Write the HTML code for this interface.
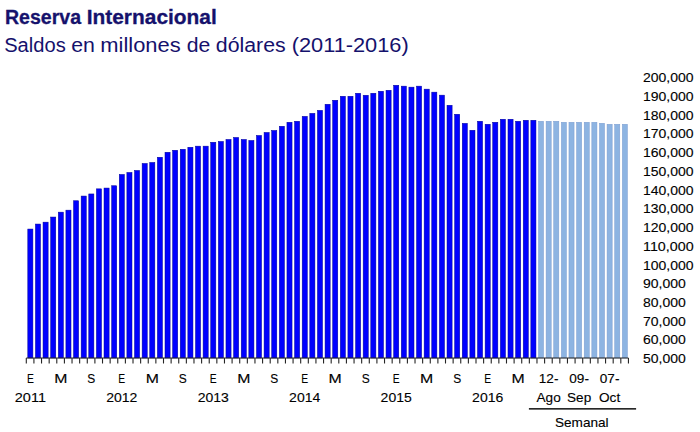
<!DOCTYPE html>
<html><head><meta charset="utf-8"><title>Reserva Internacional</title>
<style>
html,body{margin:0;padding:0;background:#fff;}
body{width:700px;height:432px;overflow:hidden;position:relative;font-family:"Liberation Sans",sans-serif;}
svg{position:absolute;left:0;top:0;}
text{font-family:"Liberation Sans",sans-serif;}
.t1{font-size:20.3px;font-weight:bold;fill:#15116c;stroke:#15116c;stroke-width:0.3px;}
.t2{font-size:20px;fill:#15116c;}
.ax{font-size:13.6px;fill:#000;stroke:#000;stroke-width:0.12px;}
</style></head><body>
<svg width="700" height="432" viewBox="0 0 700 432">
<rect width="700" height="432" fill="#fff"/>
<text class="t1" x="5.00" y="23.6" textLength="76.10" lengthAdjust="spacingAndGlyphs">Reserva</text>
<text class="t1" x="86.70" y="23.6" textLength="130.10" lengthAdjust="spacingAndGlyphs">Internacional</text>
<text class="t2" x="4.20" y="52.0" textLength="61.50" lengthAdjust="spacingAndGlyphs">Saldos</text>
<text class="t2" x="71.20" y="52.0" textLength="23.70" lengthAdjust="spacingAndGlyphs">en</text>
<text class="t2" x="100.30" y="52.0" textLength="80.40" lengthAdjust="spacingAndGlyphs">millones</text>
<text class="t2" x="186.80" y="52.0" textLength="23.60" lengthAdjust="spacingAndGlyphs">de</text>
<text class="t2" x="215.80" y="52.0" textLength="69.90" lengthAdjust="spacingAndGlyphs">dólares</text>
<text class="t2" x="291.70" y="52.0" textLength="117.00" lengthAdjust="spacingAndGlyphs">(2011-2016)</text>

<g shape-rendering="auto">
<rect x="27.80" y="229.05" width="5.1" height="128.95" fill="#0000ff" stroke="#000098" stroke-width="0.5"/>
<rect x="35.42" y="224.05" width="5.1" height="133.95" fill="#0000ff" stroke="#000098" stroke-width="0.5"/>
<rect x="43.04" y="222.15" width="5.1" height="135.85" fill="#0000ff" stroke="#000098" stroke-width="0.5"/>
<rect x="50.67" y="217.05" width="5.1" height="140.95" fill="#0000ff" stroke="#000098" stroke-width="0.5"/>
<rect x="58.29" y="212.15" width="5.1" height="145.85" fill="#0000ff" stroke="#000098" stroke-width="0.5"/>
<rect x="65.91" y="210.15" width="5.1" height="147.85" fill="#0000ff" stroke="#000098" stroke-width="0.5"/>
<rect x="73.53" y="200.75" width="5.1" height="157.25" fill="#0000ff" stroke="#000098" stroke-width="0.5"/>
<rect x="81.15" y="196.05" width="5.1" height="161.95" fill="#0000ff" stroke="#000098" stroke-width="0.5"/>
<rect x="88.78" y="193.95" width="5.1" height="164.05" fill="#0000ff" stroke="#000098" stroke-width="0.5"/>
<rect x="96.40" y="188.85" width="5.1" height="169.15" fill="#0000ff" stroke="#000098" stroke-width="0.5"/>
<rect x="104.02" y="188.05" width="5.1" height="169.95" fill="#0000ff" stroke="#000098" stroke-width="0.5"/>
<rect x="111.64" y="185.75" width="5.1" height="172.25" fill="#0000ff" stroke="#000098" stroke-width="0.5"/>
<rect x="119.26" y="174.45" width="5.1" height="183.55" fill="#0000ff" stroke="#000098" stroke-width="0.5"/>
<rect x="126.89" y="172.45" width="5.1" height="185.55" fill="#0000ff" stroke="#000098" stroke-width="0.5"/>
<rect x="134.51" y="170.45" width="5.1" height="187.55" fill="#0000ff" stroke="#000098" stroke-width="0.5"/>
<rect x="142.13" y="163.45" width="5.1" height="194.55" fill="#0000ff" stroke="#000098" stroke-width="0.5"/>
<rect x="149.75" y="162.45" width="5.1" height="195.55" fill="#0000ff" stroke="#000098" stroke-width="0.5"/>
<rect x="157.37" y="157.25" width="5.1" height="200.75" fill="#0000ff" stroke="#000098" stroke-width="0.5"/>
<rect x="165.00" y="152.25" width="5.1" height="205.75" fill="#0000ff" stroke="#000098" stroke-width="0.5"/>
<rect x="172.62" y="150.25" width="5.1" height="207.75" fill="#0000ff" stroke="#000098" stroke-width="0.5"/>
<rect x="180.24" y="149.25" width="5.1" height="208.75" fill="#0000ff" stroke="#000098" stroke-width="0.5"/>
<rect x="187.86" y="147.25" width="5.1" height="210.75" fill="#0000ff" stroke="#000098" stroke-width="0.5"/>
<rect x="195.48" y="146.15" width="5.1" height="211.85" fill="#0000ff" stroke="#000098" stroke-width="0.5"/>
<rect x="203.11" y="146.15" width="5.1" height="211.85" fill="#0000ff" stroke="#000098" stroke-width="0.5"/>
<rect x="210.73" y="142.25" width="5.1" height="215.75" fill="#0000ff" stroke="#000098" stroke-width="0.5"/>
<rect x="218.35" y="141.45" width="5.1" height="216.55" fill="#0000ff" stroke="#000098" stroke-width="0.5"/>
<rect x="225.97" y="139.45" width="5.1" height="218.55" fill="#0000ff" stroke="#000098" stroke-width="0.5"/>
<rect x="233.59" y="137.45" width="5.1" height="220.55" fill="#0000ff" stroke="#000098" stroke-width="0.5"/>
<rect x="241.22" y="139.45" width="5.1" height="218.55" fill="#0000ff" stroke="#000098" stroke-width="0.5"/>
<rect x="248.84" y="140.45" width="5.1" height="217.55" fill="#0000ff" stroke="#000098" stroke-width="0.5"/>
<rect x="256.46" y="135.45" width="5.1" height="222.55" fill="#0000ff" stroke="#000098" stroke-width="0.5"/>
<rect x="264.08" y="132.45" width="5.1" height="225.55" fill="#0000ff" stroke="#000098" stroke-width="0.5"/>
<rect x="271.70" y="130.45" width="5.1" height="227.55" fill="#0000ff" stroke="#000098" stroke-width="0.5"/>
<rect x="279.33" y="126.25" width="5.1" height="231.75" fill="#0000ff" stroke="#000098" stroke-width="0.5"/>
<rect x="286.95" y="122.25" width="5.1" height="235.75" fill="#0000ff" stroke="#000098" stroke-width="0.5"/>
<rect x="294.57" y="121.25" width="5.1" height="236.75" fill="#0000ff" stroke="#000098" stroke-width="0.5"/>
<rect x="302.19" y="116.35" width="5.1" height="241.65" fill="#0000ff" stroke="#000098" stroke-width="0.5"/>
<rect x="309.81" y="113.35" width="5.1" height="244.65" fill="#0000ff" stroke="#000098" stroke-width="0.5"/>
<rect x="317.44" y="110.35" width="5.1" height="247.65" fill="#0000ff" stroke="#000098" stroke-width="0.5"/>
<rect x="325.06" y="104.25" width="5.1" height="253.75" fill="#0000ff" stroke="#000098" stroke-width="0.5"/>
<rect x="332.68" y="100.25" width="5.1" height="257.75" fill="#0000ff" stroke="#000098" stroke-width="0.5"/>
<rect x="340.30" y="96.25" width="5.1" height="261.75" fill="#0000ff" stroke="#000098" stroke-width="0.5"/>
<rect x="347.92" y="96.25" width="5.1" height="261.75" fill="#0000ff" stroke="#000098" stroke-width="0.5"/>
<rect x="355.55" y="93.25" width="5.1" height="264.75" fill="#0000ff" stroke="#000098" stroke-width="0.5"/>
<rect x="363.17" y="95.25" width="5.1" height="262.75" fill="#0000ff" stroke="#000098" stroke-width="0.5"/>
<rect x="370.79" y="93.25" width="5.1" height="264.75" fill="#0000ff" stroke="#000098" stroke-width="0.5"/>
<rect x="378.41" y="91.25" width="5.1" height="266.75" fill="#0000ff" stroke="#000098" stroke-width="0.5"/>
<rect x="386.03" y="90.25" width="5.1" height="267.75" fill="#0000ff" stroke="#000098" stroke-width="0.5"/>
<rect x="393.66" y="85.25" width="5.1" height="272.75" fill="#0000ff" stroke="#000098" stroke-width="0.5"/>
<rect x="401.28" y="86.15" width="5.1" height="271.85" fill="#0000ff" stroke="#000098" stroke-width="0.5"/>
<rect x="408.90" y="87.15" width="5.1" height="270.85" fill="#0000ff" stroke="#000098" stroke-width="0.5"/>
<rect x="416.52" y="86.15" width="5.1" height="271.85" fill="#0000ff" stroke="#000098" stroke-width="0.5"/>
<rect x="424.14" y="89.15" width="5.1" height="268.85" fill="#0000ff" stroke="#000098" stroke-width="0.5"/>
<rect x="431.77" y="92.15" width="5.1" height="265.85" fill="#0000ff" stroke="#000098" stroke-width="0.5"/>
<rect x="439.39" y="95.15" width="5.1" height="262.85" fill="#0000ff" stroke="#000098" stroke-width="0.5"/>
<rect x="447.01" y="105.25" width="5.1" height="252.75" fill="#0000ff" stroke="#000098" stroke-width="0.5"/>
<rect x="454.63" y="114.25" width="5.1" height="243.75" fill="#0000ff" stroke="#000098" stroke-width="0.5"/>
<rect x="462.25" y="123.35" width="5.1" height="234.65" fill="#0000ff" stroke="#000098" stroke-width="0.5"/>
<rect x="469.88" y="130.25" width="5.1" height="227.75" fill="#0000ff" stroke="#000098" stroke-width="0.5"/>
<rect x="477.50" y="121.25" width="5.1" height="236.75" fill="#0000ff" stroke="#000098" stroke-width="0.5"/>
<rect x="485.12" y="124.25" width="5.1" height="233.75" fill="#0000ff" stroke="#000098" stroke-width="0.5"/>
<rect x="492.74" y="122.25" width="5.1" height="235.75" fill="#0000ff" stroke="#000098" stroke-width="0.5"/>
<rect x="500.36" y="119.25" width="5.1" height="238.75" fill="#0000ff" stroke="#000098" stroke-width="0.5"/>
<rect x="507.99" y="119.25" width="5.1" height="238.75" fill="#0000ff" stroke="#000098" stroke-width="0.5"/>
<rect x="515.61" y="121.25" width="5.1" height="236.75" fill="#0000ff" stroke="#000098" stroke-width="0.5"/>
<rect x="523.23" y="120.25" width="5.1" height="237.75" fill="#0000ff" stroke="#000098" stroke-width="0.5"/>
<rect x="530.85" y="120.25" width="5.1" height="237.75" fill="#0000ff" stroke="#000098" stroke-width="0.5"/>
<rect x="538.47" y="121.25" width="5.1" height="236.75" fill="#8db4e2" stroke="#7c9ccf" stroke-width="0.5"/>
<rect x="546.10" y="121.25" width="5.1" height="236.75" fill="#8db4e2" stroke="#7c9ccf" stroke-width="0.5"/>
<rect x="553.72" y="121.25" width="5.1" height="236.75" fill="#8db4e2" stroke="#7c9ccf" stroke-width="0.5"/>
<rect x="561.34" y="122.25" width="5.1" height="235.75" fill="#8db4e2" stroke="#7c9ccf" stroke-width="0.5"/>
<rect x="568.96" y="122.25" width="5.1" height="235.75" fill="#8db4e2" stroke="#7c9ccf" stroke-width="0.5"/>
<rect x="576.58" y="122.25" width="5.1" height="235.75" fill="#8db4e2" stroke="#7c9ccf" stroke-width="0.5"/>
<rect x="584.21" y="122.25" width="5.1" height="235.75" fill="#8db4e2" stroke="#7c9ccf" stroke-width="0.5"/>
<rect x="591.83" y="122.25" width="5.1" height="235.75" fill="#8db4e2" stroke="#7c9ccf" stroke-width="0.5"/>
<rect x="599.45" y="123.25" width="5.1" height="234.75" fill="#8db4e2" stroke="#7c9ccf" stroke-width="0.5"/>
<rect x="607.07" y="124.25" width="5.1" height="233.75" fill="#8db4e2" stroke="#7c9ccf" stroke-width="0.5"/>
<rect x="614.69" y="124.25" width="5.1" height="233.75" fill="#8db4e2" stroke="#7c9ccf" stroke-width="0.5"/>
<rect x="622.32" y="124.25" width="5.1" height="233.75" fill="#8db4e2" stroke="#7c9ccf" stroke-width="0.5"/>
</g>
<g stroke="#262626" stroke-width="1.1" fill="none">
<path d="M26.30 358.0 H628.44"/>
<path d="M26.30 358.0 V363.4M33.92 358.0 V363.4M41.54 358.0 V363.4M49.17 358.0 V363.4M56.79 358.0 V363.4M64.41 358.0 V363.4M72.03 358.0 V363.4M79.65 358.0 V363.4M87.28 358.0 V363.4M94.90 358.0 V363.4M102.52 358.0 V363.4M110.14 358.0 V363.4M117.76 358.0 V363.4M125.39 358.0 V363.4M133.01 358.0 V363.4M140.63 358.0 V363.4M148.25 358.0 V363.4M155.87 358.0 V363.4M163.50 358.0 V363.4M171.12 358.0 V363.4M178.74 358.0 V363.4M186.36 358.0 V363.4M193.98 358.0 V363.4M201.61 358.0 V363.4M209.23 358.0 V363.4M216.85 358.0 V363.4M224.47 358.0 V363.4M232.09 358.0 V363.4M239.72 358.0 V363.4M247.34 358.0 V363.4M254.96 358.0 V363.4M262.58 358.0 V363.4M270.20 358.0 V363.4M277.83 358.0 V363.4M285.45 358.0 V363.4M293.07 358.0 V363.4M300.69 358.0 V363.4M308.31 358.0 V363.4M315.94 358.0 V363.4M323.56 358.0 V363.4M331.18 358.0 V363.4M338.80 358.0 V363.4M346.42 358.0 V363.4M354.05 358.0 V363.4M361.67 358.0 V363.4M369.29 358.0 V363.4M376.91 358.0 V363.4M384.53 358.0 V363.4M392.16 358.0 V363.4M399.78 358.0 V363.4M407.40 358.0 V363.4M415.02 358.0 V363.4M422.64 358.0 V363.4M430.27 358.0 V363.4M437.89 358.0 V363.4M445.51 358.0 V363.4M453.13 358.0 V363.4M460.75 358.0 V363.4M468.38 358.0 V363.4M476.00 358.0 V363.4M483.62 358.0 V363.4M491.24 358.0 V363.4M498.86 358.0 V363.4M506.49 358.0 V363.4M514.11 358.0 V363.4M521.73 358.0 V363.4M529.35 358.0 V363.4M536.97 358.0 V363.4M544.60 358.0 V363.4M552.22 358.0 V363.4M559.84 358.0 V363.4M567.46 358.0 V363.4M575.08 358.0 V363.4M582.71 358.0 V363.4M590.33 358.0 V363.4M597.95 358.0 V363.4M605.57 358.0 V363.4M613.19 358.0 V363.4M620.82 358.0 V363.4M628.44 358.0 V363.4"/>
</g>
<text class="ax" x="643.0" y="82.2" textLength="50.6" lengthAdjust="spacingAndGlyphs">200,000</text>
<text class="ax" x="643.0" y="100.9" textLength="50.6" lengthAdjust="spacingAndGlyphs">190,000</text>
<text class="ax" x="643.0" y="119.7" textLength="50.6" lengthAdjust="spacingAndGlyphs">180,000</text>
<text class="ax" x="643.0" y="138.4" textLength="50.6" lengthAdjust="spacingAndGlyphs">170,000</text>
<text class="ax" x="643.0" y="157.1" textLength="50.6" lengthAdjust="spacingAndGlyphs">160,000</text>
<text class="ax" x="643.0" y="175.8" textLength="50.6" lengthAdjust="spacingAndGlyphs">150,000</text>
<text class="ax" x="643.0" y="194.6" textLength="50.6" lengthAdjust="spacingAndGlyphs">140,000</text>
<text class="ax" x="643.0" y="213.3" textLength="50.6" lengthAdjust="spacingAndGlyphs">130,000</text>
<text class="ax" x="643.0" y="232.0" textLength="50.6" lengthAdjust="spacingAndGlyphs">120,000</text>
<text class="ax" x="643.0" y="250.7" textLength="50.6" lengthAdjust="spacingAndGlyphs">110,000</text>
<text class="ax" x="643.0" y="269.5" textLength="50.6" lengthAdjust="spacingAndGlyphs">100,000</text>
<text class="ax" x="643.0" y="288.2" textLength="42.8" lengthAdjust="spacingAndGlyphs">90,000</text>
<text class="ax" x="643.0" y="306.9" textLength="42.8" lengthAdjust="spacingAndGlyphs">80,000</text>
<text class="ax" x="643.0" y="325.7" textLength="42.8" lengthAdjust="spacingAndGlyphs">70,000</text>
<text class="ax" x="643.0" y="344.4" textLength="42.8" lengthAdjust="spacingAndGlyphs">60,000</text>
<text class="ax" x="643.0" y="363.1" textLength="42.8" lengthAdjust="spacingAndGlyphs">50,000</text>
<text class="ax" text-anchor="middle" x="30.4" y="383.3" textLength="6.9" lengthAdjust="spacingAndGlyphs">E</text>
<text class="ax" text-anchor="middle" x="30.4" y="401.5" textLength="31.2" lengthAdjust="spacingAndGlyphs">2011</text>
<text class="ax" text-anchor="middle" x="60.8" y="383.3" textLength="13.2" lengthAdjust="spacingAndGlyphs">M</text>
<text class="ax" text-anchor="middle" x="91.3" y="383.3" textLength="8.0" lengthAdjust="spacingAndGlyphs">S</text>
<text class="ax" text-anchor="middle" x="121.8" y="383.3" textLength="6.9" lengthAdjust="spacingAndGlyphs">E</text>
<text class="ax" text-anchor="middle" x="121.8" y="401.5" textLength="31.2" lengthAdjust="spacingAndGlyphs">2012</text>
<text class="ax" text-anchor="middle" x="152.3" y="383.3" textLength="13.2" lengthAdjust="spacingAndGlyphs">M</text>
<text class="ax" text-anchor="middle" x="182.8" y="383.3" textLength="8.0" lengthAdjust="spacingAndGlyphs">S</text>
<text class="ax" text-anchor="middle" x="213.3" y="383.3" textLength="6.9" lengthAdjust="spacingAndGlyphs">E</text>
<text class="ax" text-anchor="middle" x="213.3" y="401.5" textLength="31.2" lengthAdjust="spacingAndGlyphs">2013</text>
<text class="ax" text-anchor="middle" x="243.8" y="383.3" textLength="13.2" lengthAdjust="spacingAndGlyphs">M</text>
<text class="ax" text-anchor="middle" x="274.3" y="383.3" textLength="8.0" lengthAdjust="spacingAndGlyphs">S</text>
<text class="ax" text-anchor="middle" x="304.7" y="383.3" textLength="6.9" lengthAdjust="spacingAndGlyphs">E</text>
<text class="ax" text-anchor="middle" x="304.7" y="401.5" textLength="31.2" lengthAdjust="spacingAndGlyphs">2014</text>
<text class="ax" text-anchor="middle" x="335.2" y="383.3" textLength="13.2" lengthAdjust="spacingAndGlyphs">M</text>
<text class="ax" text-anchor="middle" x="365.7" y="383.3" textLength="8.0" lengthAdjust="spacingAndGlyphs">S</text>
<text class="ax" text-anchor="middle" x="396.2" y="383.3" textLength="6.9" lengthAdjust="spacingAndGlyphs">E</text>
<text class="ax" text-anchor="middle" x="396.2" y="401.5" textLength="31.2" lengthAdjust="spacingAndGlyphs">2015</text>
<text class="ax" text-anchor="middle" x="426.7" y="383.3" textLength="13.2" lengthAdjust="spacingAndGlyphs">M</text>
<text class="ax" text-anchor="middle" x="457.2" y="383.3" textLength="8.0" lengthAdjust="spacingAndGlyphs">S</text>
<text class="ax" text-anchor="middle" x="487.7" y="383.3" textLength="6.9" lengthAdjust="spacingAndGlyphs">E</text>
<text class="ax" text-anchor="middle" x="487.7" y="401.5" textLength="31.2" lengthAdjust="spacingAndGlyphs">2016</text>
<text class="ax" text-anchor="middle" x="518.2" y="383.3" textLength="13.2" lengthAdjust="spacingAndGlyphs">M</text>
<text class="ax" text-anchor="middle" x="548.6" y="383.3">12-</text>
<text class="ax" text-anchor="middle" x="548.6" y="401.5">Ago</text>
<text class="ax" text-anchor="middle" x="579.1" y="383.3">09-</text>
<text class="ax" text-anchor="middle" x="579.1" y="401.5">Sep</text>
<text class="ax" text-anchor="middle" x="609.6" y="383.3">07-</text>
<text class="ax" text-anchor="middle" x="609.6" y="401.5">Oct</text>
<rect x="528.9" y="408.1" width="107.2" height="1.5" fill="#111"/>
<text class="ax" text-anchor="middle" x="581.8" y="426.5">Semanal</text>
</svg></body></html>
